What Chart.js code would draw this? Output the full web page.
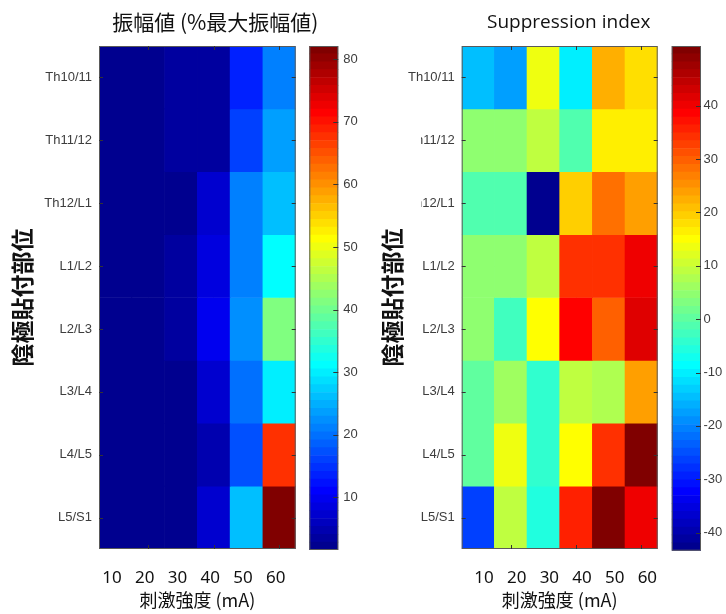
<!DOCTYPE html>
<html>
<head>
<meta charset="utf-8">
<script src="https://cdn.jsdelivr.net/npm/chart.js@4.4.1/dist/chart.umd.min.js"></script>
<style>
  html, body { margin: 0; padding: 0; background: #fff; }
  #wrap { position: relative; width: 726px; height: 614px; overflow: hidden; }
  #wrap canvas { position: absolute; top: 0; }
</style>
</head>
<body>
<div id="wrap">
  <canvas id="ampMap" style="left:0px" width="340" height="614"></canvas>
  <canvas id="ampBar" style="left:300px" width="62" height="614"></canvas>
  <canvas id="supMap" style="left:362px" width="300" height="614"></canvas>
  <canvas id="supBar" style="left:662px" width="64" height="614"></canvas>
</div>
<script>
// Stimulus intensity (mA) along x, cathode site along y (top to bottom)
const stimLabels = ['10', '20', '30', '40', '50', '60'];
const siteLabels = ['Th10/11', 'Th11/12', 'Th12/L1', 'L1/L2', 'L2/L3', 'L3/L4', 'L4/L5', 'L5/S1'];

// Amplitude, % of maximal amplitude (one row per site)
const ampThL10 = [1.6, 1.8, 3.6, 3.8, 13.5, 21.5];
const ampThL11 = [1.7, 1.9, 3.7, 3.9, 16.5, 23.5];
const ampThL12 = [1.6, 1.7, 1.8, 7.6, 20.5, 26.5];
const ampL1 = [1.7, 1.9, 3.2, 8.6, 21.5, 31.5];
const ampL2 = [1.7, 1.9, 3.3, 9.4, 22.5, 41.5];
const ampL3 = [1.7, 1.8, 1.9, 7.2, 19.5, 29.5];
const ampL4 = [1.6, 1.7, 1.8, 5.0, 17.5, 67.5];
const ampL5 = [1.6, 1.7, 1.8, 7.4, 26.5, 82.1];
const amplitude = [ampThL10, ampThL11, ampThL12, ampL1, ampL2, ampL3, ampL4, ampL5];

// Suppression index (one row per site)
const supThL10 = [-15.0, -17.0, 14.0, -10.3, 21.8, 17.3];
const supThL11 = [3.9, 4.2, 9.8, -0.8, 17.0, 17.0];
const supThL12 = [-2.0, -2.0, -43.4, 19.0, 28.5, 23.8];
const supL1 = [4.0, 4.5, 9.8, 33.5, 34.5, 39.4];
const supL2 = [5.0, -3.2, 14.4, 38.0, 29.9, 41.0];
const supL3 = [0.4, 6.3, -4.4, 8.6, 7.0, 23.3];
const supL4 = [0.4, 13.8, -4.4, 15.7, 34.5, 51.2];
const supL5 = [-25.7, 8.6, -5.0, 35.4, 50.0, 39.4];
const suppression = [supThL10, supThL11, supThL12, supL1, supL2, supL3, supL4, supL5];

// Colour bar tick labels
const ampTicks = [10, 20, 30, 40, 50, 60, 70, 80];
const supTicks = [-40, -30, -20, -10, 0, 10, 20, 30, 40];

const ampTitle = '振幅値 (%最大振幅値)';
const supTitle = 'Suppression index';
const siteAxisTitle = '陰極貼付部位';
const stimAxisTitle = '刺激強度 (mA)';

const CJK = '"Noto Sans CJK JP", "Noto Sans", sans-serif';
const ARIAL = '"Liberation Sans", Arial, sans-serif';
const TEXT_DARK = '#111111';
const TEXT_GREY = '#3d3d3d';
const GRID = 'rgba(0,0,0,0.16)';
const FRAME = '#5a5a5a';

// 64-level jet colour map (same construction as MATLAB's jet)
function jetMap(m) {
  const n = Math.ceil(m / 4);
  const u = [];
  for (let k = 1; k <= n; k++) u.push(k / n);
  for (let k = 1; k < n; k++) u.push(1);
  for (let k = n; k >= 1; k--) u.push(k / n);
  const off = Math.ceil(n / 2) - (m % 4 === 1 ? 1 : 0);
  const map = Array.from({ length: m }, () => [0, 0, 0]);
  u.forEach((val, j) => {
    const g = off + j, r = g + n, b = g - n;
    if (g >= 0 && g < m) map[g][1] = val;
    if (r >= 0 && r < m) map[r][0] = val;
    if (b >= 0 && b < m) map[b][2] = val;
  });
  return map;
}
const LEVELS = 64;
const JET = jetMap(LEVELS);
const rgb = c => `rgb(${Math.round(c[0] * 255)},${Math.round(c[1] * 255)},${Math.round(c[2] * 255)})`;
function colorFor(v, lo, hi) {
  const i = Math.min(LEVELS - 1, Math.max(0, Math.floor((v - lo) / (hi - lo) * LEVELS)));
  return rgb(JET[i]);
}
const rangeOf = rows => {
  const flat = rows.flat();
  return [Math.min(...flat), Math.max(...flat)];
};

// Panel title, centred over the plot area with an optional sideways shift
const panelTitle = {
  id: 'panelTitle',
  afterDraw(chart, args, o) {
    if (!o.text) return;
    const { ctx, chartArea: a } = chart;
    ctx.save();
    ctx.font = o.font;
    ctx.fillStyle = o.color;
    ctx.textAlign = 'center';
    ctx.textBaseline = 'alphabetic';
    ctx.fillText(o.text, (a.left + a.right) / 2 + (o.shift || 0), o.baseline);
    ctx.restore();
  }
};

// Box around the image plus short inward tick marks
const heatFrame = {
  id: 'heatFrame',
  afterDraw(chart, args, o) {
    const { ctx, chartArea: a, scales: { x, y } } = chart;
    ctx.save();
    ctx.strokeStyle = FRAME;
    ctx.lineWidth = 1;
    ctx.strokeRect(a.left + 0.5, a.top + 0.5, a.right - a.left - 1, a.bottom - a.top - 1);
    ctx.strokeStyle = '#333';
    ctx.beginPath();
    siteLabels.forEach((_, i) => {
      const py = Math.round(y.getPixelForValue(i + 0.5)) + 0.5;
      ctx.moveTo(a.left, py); ctx.lineTo(a.left + 4, py);
      ctx.moveTo(a.right - 4, py); ctx.lineTo(a.right, py);
    });
    stimLabels.forEach((_, c) => {
      if (c % 2 !== 1) return;
      const px = Math.round(x.getPixelForValue(c)) + 0.5;
      ctx.moveTo(px, a.bottom); ctx.lineTo(px, a.bottom - 4);
      ctx.moveTo(px, a.top); ctx.lineTo(px, a.top + 4);
    });
    ctx.stroke();
    // neighbouring panel overlaps the start of some site labels
    if (o.mask) {
      ctx.fillStyle = '#ffffff';
      ctx.fillRect(o.mask.x, o.mask.y, o.mask.w, o.mask.h);
    }
    ctx.restore();
  }
};

function makeHeatmap(id, rows, o) {
  const [lo, hi] = rangeOf(rows);
  const datasets = rows.map((row, r) => ({
    data: row.map(() => [r, r + 1]),
    backgroundColor: row.map(v => colorFor(v, lo, hi)),
    borderWidth: 0,
    grouped: false,
    barPercentage: 1,
    categoryPercentage: 1
  }));
  return new Chart(document.getElementById(id), {
    type: 'bar',
    data: { labels: stimLabels, datasets },
    options: {
      responsive: false,
      animation: false,
      events: [],
      layout: { padding: { left: 0, top: 46, right: o.right, bottom: 0 } },
      plugins: {
        legend: { display: false },
        tooltip: { enabled: false },
        panelTitle: { text: o.title, font: o.titleFont, color: TEXT_DARK, baseline: o.titleBaseline, shift: o.titleShift },
        heatFrame: { mask: o.mask }
      },
      scales: {
        x: {
          type: 'category',
          position: 'bottom',
          offset: true,
          z: 1,
          afterFit: s => { s.height = 65; s.paddingLeft = 0; s.paddingRight = 0; },
          grid: { offset: false, drawTicks: false, lineWidth: 1,
                  color: c => (c.index % 2 === 1 ? GRID : 'rgba(0,0,0,0)') },
          border: { display: false },
          ticks: { padding: 19, labelOffset: o.labelOffset, color: TEXT_DARK,
                   font: { family: '"Noto Sans", sans-serif', size: 17 } },
          title: { display: true, text: stimAxisTitle, color: TEXT_DARK,
                   font: { family: CJK, size: 18 }, padding: { top: 0, bottom: 3 } }
        },
        y: {
          type: 'linear',
          position: 'left',
          min: 0,
          max: siteLabels.length,
          reverse: true,
          z: 1,
          afterFit: s => { s.width = o.axisWidth; s.paddingTop = 0; s.paddingBottom = 0; },
          afterBuildTicks: s => { s.ticks = siteLabels.map((_, i) => ({ value: i + 0.5 })); },
          grid: { drawTicks: false, color: GRID, lineWidth: 1 },
          border: { display: false },
          ticks: { padding: 7, color: TEXT_GREY, autoSkip: false,
                   font: { family: ARIAL, size: 13 },
                   callback: (v, i) => siteLabels[i] },
          title: { display: true, text: siteAxisTitle, color: TEXT_DARK,
                   font: { family: CJK, size: 23, weight: 'bold' },
                   padding: { top: o.yTitlePad, bottom: 0 } }
        }
      }
    },
    plugins: [panelTitle, heatFrame]
  });
}

// Colour bar outline and inward ticks on its right edge
const barFrame = {
  id: 'barFrame',
  afterDraw(chart) {
    const { ctx, chartArea: a, scales: { y } } = chart;
    ctx.save();
    ctx.strokeStyle = FRAME;
    ctx.lineWidth = 1;
    ctx.strokeRect(a.left + 0.5, a.top + 0.5, a.right - a.left - 1, a.bottom - a.top - 1);
    ctx.strokeStyle = '#333';
    ctx.beginPath();
    y.ticks.forEach(t => {
      const py = Math.round(y.getPixelForValue(t.value)) + 0.5;
      ctx.moveTo(a.right - 5, py); ctx.lineTo(a.right, py);
    });
    ctx.stroke();
    ctx.restore();
  }
};

function makeColorbar(id, rows, tickValues, o) {
  const [lo, hi] = rangeOf(rows);
  const step = (hi - lo) / LEVELS;
  const datasets = JET.map((c, i) => ({
    data: [[lo + i * step, lo + (i + 1) * step]],
    backgroundColor: rgb(c),
    borderWidth: 0,
    grouped: false,
    barPercentage: 1,
    categoryPercentage: 1
  }));
  return new Chart(document.getElementById(id), {
    type: 'bar',
    data: { labels: [''], datasets },
    options: {
      responsive: false,
      animation: false,
      events: [],
      layout: { padding: { left: o.left, top: 46, right: 0, bottom: o.bottom } },
      plugins: { legend: { display: false }, tooltip: { enabled: false } },
      scales: {
        x: { display: false, offset: true },
        y: {
          type: 'linear',
          position: 'right',
          min: lo,
          max: hi,
          afterFit: s => { s.width = o.axisWidth; s.paddingTop = 0; s.paddingBottom = 0; },
          afterBuildTicks: s => { s.ticks = tickValues.map(v => ({ value: v })); },
          grid: { display: false, drawTicks: false },
          border: { display: false },
          ticks: { padding: o.labelPad, color: TEXT_GREY, autoSkip: false,
                   font: { family: ARIAL, size: 13 } }
        }
      }
    },
    plugins: [barFrame]
  });
}

makeHeatmap('ampMap', amplitude, {
  title: ampTitle, titleFont: `21px ${CJK}`, titleBaseline: 30, titleShift: 18,
  right: 44.3, axisWidth: 99, yTitlePad: 8, labelOffset: -3.5
});
makeColorbar('ampBar', amplitude, ampTicks, { left: 9.3, bottom: 64, axisWidth: 23.7, labelPad: 5 });

makeHeatmap('supMap', suppression, {
  title: supTitle, titleFont: '19px "Open Sans", "Noto Sans", sans-serif', titleBaseline: 27.5, titleShift: 9,
  right: 4.3, axisWidth: 99.7, yTitlePad: 16, labelOffset: 6,
  mask: { x: 30, y: 100, w: 29, h: 128 }
});
makeColorbar('supBar', suppression, supTicks, { left: 9.7, bottom: 63.3, axisWidth: 25, labelPad: 2.5 });
</script>
</body>
</html>
